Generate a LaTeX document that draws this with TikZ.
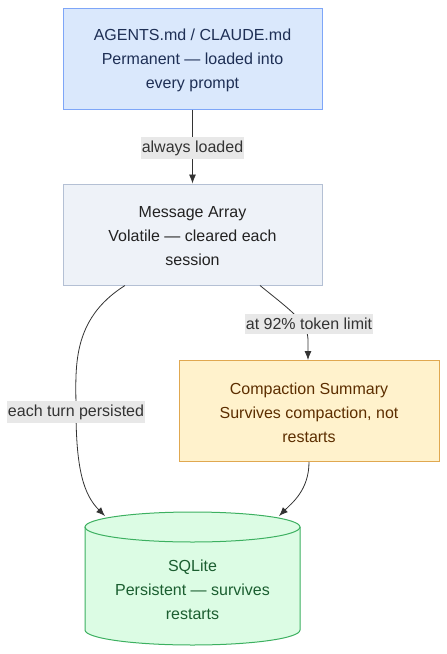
\documentclass[tikz,border=0pt]{standalone}
\usepackage{fontspec}
\setmainfont{Liberation Sans}
\usetikzlibrary{arrows.meta}
\definecolor{bluefill}{HTML}{DAE8FC}
\definecolor{bluedraw}{HTML}{7EA6F8}
\definecolor{bluetext}{HTML}{1E2F55}
\definecolor{greyfill}{HTML}{EEF2F8}
\definecolor{greydraw}{HTML}{B4C0D4}
\definecolor{greytext}{HTML}{222222}
\definecolor{yelfill}{HTML}{FFF2CC}
\definecolor{yeldraw}{HTML}{E0A850}
\definecolor{yeltext}{HTML}{5C2E00}
\definecolor{grnfill}{HTML}{DCFCE4}
\definecolor{grndraw}{HTML}{3CB060}
\definecolor{grntext}{HTML}{1B5E30}
\definecolor{lblfill}{HTML}{E8E8E8}
\definecolor{edgecol}{HTML}{333333}
\tikzset{
  box/.style={rectangle, minimum width=259pt, minimum height=101pt, line width=1pt},
  boxtext/.style={align=center, font=\fontsize{16}{24}\selectfont, yshift=-2pt},
  lbl/.style={fill=lblfill, text=edgecol, inner xsep=1pt, inner ysep=4pt,
    font=\fontsize{16}{19}\selectfont},
  conn/.style={draw=edgecol, line width=0.8pt, -{Latex[length=9pt,width=7pt]}},
}
\begin{document}
\begin{tikzpicture}[x=1pt,y=-1pt]
\useasboundingbox (0,0) rectangle (447,654);
\node[box, fill=bluefill, draw=bluedraw] (top) at (192.5,58.5) {};
\node[boxtext, text=bluetext] (toptext) at (top.center)
  {AGENTS.md / CLAUDE.md\\Permanent — loaded into\\every prompt};
\node[box, fill=greyfill, draw=greydraw] (msg) at (192.5,234.5) {};
\node[boxtext, text=greytext] (msgtext) at (msg.center)
  {Message Array\\Volatile — cleared each\\session};
\node[box, fill=yelfill, draw=yeldraw, minimum width=260pt] (cmp) at (309,411) {};
\node[boxtext, text=yeltext] (cmptext) at (cmp.center)
  {Compaction Summary\\Survives compaction, not\\restarts};
% cylinder
\fill[grnfill] (85,527) -- (85,630) arc[start angle=180, end angle=360, x radius=107.5, y radius=-15]
  -- (300,527) arc[start angle=0, end angle=180, x radius=107.5, y radius=-15] -- cycle;
\draw[grndraw, line width=1pt] (85,527) -- (85,630) arc[start angle=180, end angle=360, x radius=107.5, y radius=-15]
  -- (300,527);
\draw[grndraw, line width=1pt] (192.5,527) ellipse[x radius=107.5, y radius=15];
\node[boxtext, text=grntext] (db) at (192.5,588) {SQLite\\Persistent — survives\\restarts};
\coordinate (dbL) at (105,516);
\coordinate (dbR) at (279,516);
% edges
\draw[conn] (top.south) -- (msg.north);
\node[lbl] (l1) at (192.5,148) {always loaded};
\draw[conn] ([xshift=67.5pt]msg.south) .. controls (290,310) and (308,322) .. (308,340) -- ([xshift=-1pt]cmp.north);
\node[lbl] (l2) at (309,324) {at 92\% token limit};
\draw[conn] ([xshift=-67.5pt]msg.south) .. controls (70,320) and (76,370) .. (76,410)
  .. controls (76,470) and (84,495) .. (dbL);
\node[lbl] (l3) at (76,412) {each turn persisted};
\draw[conn] (cmp.south) .. controls (309,490) and (292,503) .. (dbR);
\end{tikzpicture}
\end{document}
